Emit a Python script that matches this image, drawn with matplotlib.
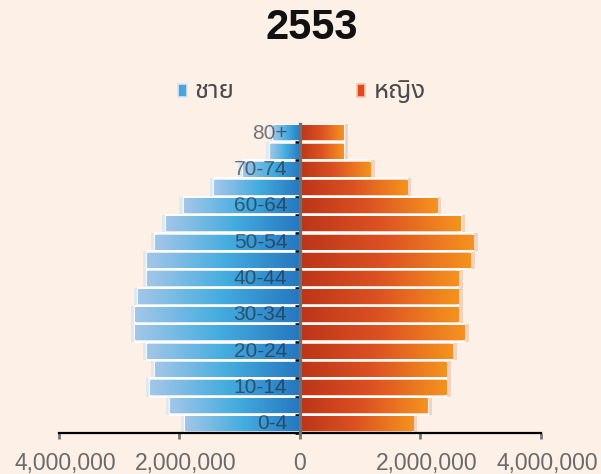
import numpy as np
import matplotlib
matplotlib.use('Agg')
import matplotlib.pyplot as plt
import matplotlib.transforms as mtransforms
from matplotlib.colors import LinearSegmentedColormap
from matplotlib.patches import Rectangle

# population by age group, year 2553
age_groups = ['0-4', '5-9', '10-14', '15-19', '20-24', '25-29', '30-34', '35-39',
              '40-44', '45-49', '50-54', '55-59', '60-64', '65-69', '70-74', '75-79', '80+']
male = [1900000, 2150000, 2480000, 2400000, 2530000, 2730000, 2730000, 2680000,
        2530000, 2530000, 2400000, 2220000, 1930000, 1430000, 950000, 500000, 450000]
female = [1880000, 2120000, 2430000, 2430000, 2530000, 2730000, 2630000, 2630000,
          2630000, 2830000, 2880000, 2670000, 2280000, 1780000, 1170000, 730000, 730000]
labelled = ['0-4', '10-14', '20-24', '30-34', '40-44', '50-54', '60-64', '70-74', '80+']
xticks = [-4000000, -2000000, 0, 2000000, 4000000]
xticklabels = ['4,000,000', '2,000,000', '0', '2,000,000', '4,000,000']

latin = 'Liberation Sans'
thai = ['Noto Sans Thai', 'Sarabun', 'Noto Sans Thai Looped', 'DejaVu Sans']
bg = '#fcf0e7'

blue_cm = LinearSegmentedColormap.from_list('b', ['#a2c6e8', '#45ade0', '#2678c0'])
orange_cm = LinearSegmentedColormap.from_list('o', ['#bd3519', '#dd5222', '#f5921e'])
grad = np.linspace(0, 1, 64).reshape(1, -1)

fig = plt.figure(figsize=(6.01, 4.74), dpi=100, facecolor=bg)
ax = fig.add_axes([0.098, 0.0865, 0.802, 0.652])
ax.set_facecolor(bg)

y = np.arange(len(age_groups))
h = 0.82

# light halo behind the bars
ax.barh(y, [-v - 70000 for v in male], height=1.0, color='#d9e8f4', alpha=0.85, zorder=1)
ax.barh(y, [v + 70000 for v in female], height=1.0, color='#f4cdb8', alpha=0.85, zorder=1)
ax.barh(y, [-v for v in male], height=1.0, color='none', edgecolor='white', lw=1.2, zorder=1.5)
ax.barh(y, female, height=1.0, color='none', edgecolor='white', lw=1.2, zorder=1.5)

# gradient bars
for i in range(len(age_groups)):
    ax.imshow(grad, cmap=blue_cm, extent=(-male[i], 0, i - h / 2, i + h / 2),
              aspect='auto', zorder=2, interpolation='bilinear')
    ax.imshow(grad, cmap=orange_cm, extent=(0, female[i], i - h / 2, i + h / 2),
              aspect='auto', zorder=2, interpolation='bilinear')

# age labels
for lab in labelled:
    i = age_groups.index(lab)
    ax.text(-210000, i, lab, ha='right', va='center', fontsize=15, family=latin,
            color='#1c2834', alpha=0.62, zorder=5)

ax.set_xlim(-4000000, 4000000)
ax.set_ylim(-0.5, 16.5)

ax.spines['top'].set_visible(False)
ax.spines['right'].set_visible(False)
ax.spines['left'].set_position(('data', 0))
ax.spines['left'].set_color('#707070')
ax.spines['left'].set_linewidth(2.4)
ax.spines['left'].set_zorder(6)
ax.spines['bottom'].set_linewidth(1.6)
ax.spines['bottom'].set_color('black')

ax.set_yticks(np.arange(-0.5, 16.5, 1.0))
ax.set_yticklabels([])
ax.tick_params(axis='y', length=3.5, width=1.8, color='black')

ax.set_xticks(xticks)
ax.set_xticklabels(xticklabels, family=latin)
ax.tick_params(axis='x', length=4, width=2, color='#777777', pad=10,
               labelsize=16.5, labelcolor='#6a6a6a')
ticks = ax.xaxis.get_major_ticks()
ticks[0].tick1line.set_color('black')
ticks[-1].tick1line.set_color('black')
shift = mtransforms.ScaledTranslation(0.06, 0, fig.dpi_scale_trans)
for k, lbl in enumerate(ax.get_xticklabels()):
    if k != 2:
        lbl.set_transform(lbl.get_transform() + shift)

fig.text(0.518, 0.94, '2553', ha='center', va='center', fontsize=30,
         fontweight='bold', color='#111111', family=latin)

# legend
fig.patches.append(Rectangle((0.297, 0.795), 0.014, 0.027, transform=fig.transFigure,
                             facecolor='#4aa3dc', edgecolor='#d5e8f5', lw=1.2))
fig.patches.append(Rectangle((0.594, 0.795), 0.014, 0.027, transform=fig.transFigure,
                             facecolor='#e0481e', edgecolor='#f3c4ae', lw=1.2))
fig.text(0.323, 0.808, 'ชาย', ha='left', va='center', fontsize=18.5,
         color='#4a4a4a', family=thai)
fig.text(0.622, 0.808, 'หญิง', ha='left', va='center', fontsize=18.5,
         color='#4a4a4a', family=thai)

fig.savefig('out.png', dpi=100, facecolor=bg)
